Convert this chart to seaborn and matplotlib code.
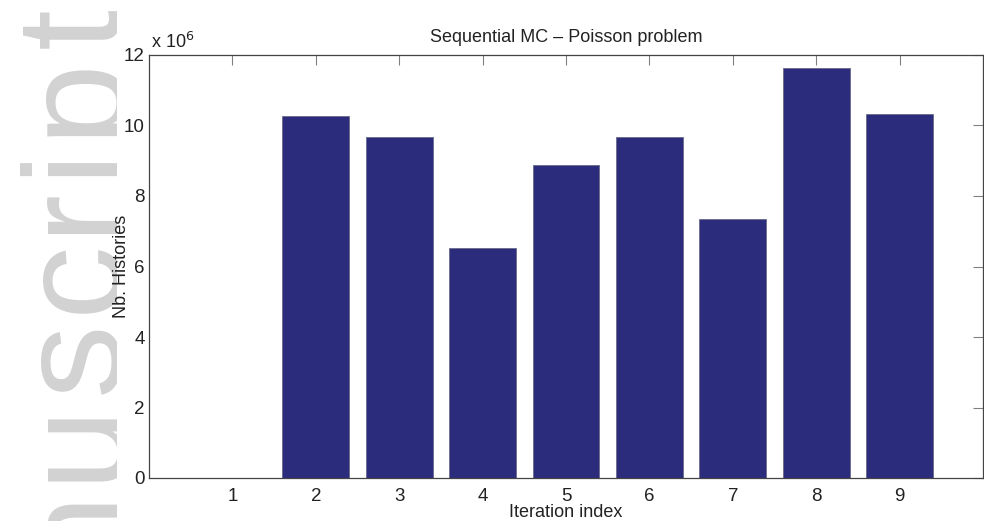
import matplotlib
matplotlib.use("Agg")
import matplotlib.pyplot as plt
import matplotlib.ticker as mticker
from matplotlib.transforms import Bbox, TransformedBbox
import seaborn as sns
import pandas as pd

# -------- data --------
iterations = [1, 2, 3, 4, 5, 6, 7, 8, 9]
nb_histories = [0.0, 10.27e6, 9.68e6, 6.52e6, 8.87e6, 9.68e6, 7.36e6, 11.63e6, 10.33e6]
y_ticks = [0, 2e6, 4e6, 6e6, 8e6, 10e6, 12e6]

BAR_COLOR = "#2b2c7c"
FONT = "Liberation Sans"

sns.set_theme(style="white")
plt.rcParams["font.family"] = [FONT, "DejaVu Sans"]

df = pd.DataFrame({"iteration": iterations, "histories": nb_histories})

fig = plt.figure(figsize=(9.84, 5.21), dpi=100)
ax = fig.add_axes([149 / 984, 43 / 521, 834 / 984, 423 / 521])

# faint "Accepted Manuscript" watermark remnant on the left (clipped like the original)
wm_letters = "nuscript"
wm_centers_px = [526, 440, 357, 276, 208, 160, 95, 27]  # pixel rows from the top
clip = TransformedBbox(Bbox([[0, 0], [117 / 984, 1]]), fig.transFigure)
for ch, yc in zip(wm_letters, wm_centers_px):
    t = fig.text(117 / 984, (521 - yc) / 521, ch, rotation=90,
                 rotation_mode="anchor", ha="center", va="baseline",
                 fontsize=106, color="#d2d2d2", zorder=-5, family=FONT)
    t.set_clip_box(clip)
    t.set_clip_on(True)

sns.barplot(data=df, x="iteration", y="histories", native_scale=True,
            color=BAR_COLOR, width=0.8, saturation=1, edgecolor="#6a6a8a",
            linewidth=0.6, ax=ax)

ax.set_xlim(0, 10)
ax.set_ylim(0, 12e6)
ax.set_xticks(iterations)
ax.set_yticks(y_ticks)
ax.yaxis.set_major_formatter(mticker.FuncFormatter(lambda v, p: f"{v / 1e6:g}"))

ax.tick_params(direction="in", top=True, right=True, length=7, width=0.8,
               color="#808080", labelsize=13.5, labelcolor="#222222")
ax.tick_params(axis="x", pad=7)
ax.tick_params(axis="y", pad=3)
for s in ax.spines.values():
    s.set_visible(True)
    s.set_color("#444444")
    s.set_linewidth(0.9)

ax.text(0.002, 1.006, r"x 10$^{6}$", transform=ax.transAxes, ha="left", va="bottom",
        fontsize=13, color="#222222")
ax.set_title("Sequential MC \u2013 Poisson problem", fontsize=13, color="#222222", pad=9)
ax.set_xlabel("Iteration index", fontsize=13, color="#222222")
ax.set_ylabel("Nb. Histories", fontsize=13, color="#222222")
ax.xaxis.set_label_coords(0.5, -0.062)
ax.yaxis.set_label_coords(-0.023, 0.5)

fig.savefig("out.png", dpi=100, facecolor="white")
